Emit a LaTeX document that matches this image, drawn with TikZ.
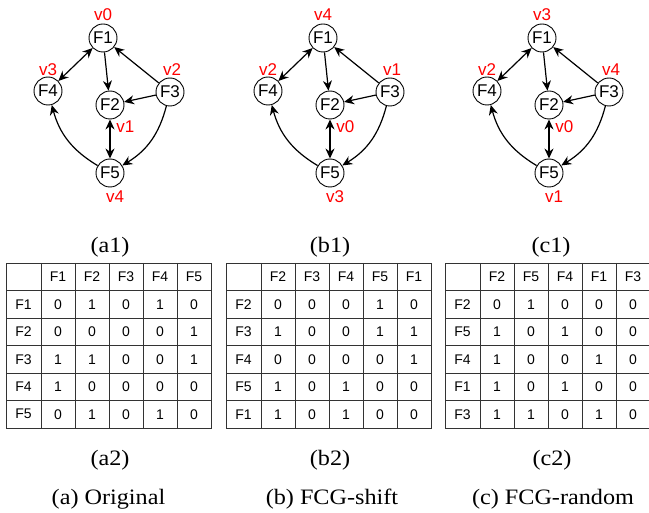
\documentclass[tikz,border=0pt]{standalone}
\usepackage{fontspec}
\setmainfont[FakeStretch=1.1]{Liberation Serif}
\setsansfont{Liberation Sans}
\usetikzlibrary{positioning,arrows.meta}

\begin{document}
\begin{tikzpicture}[x=1pt,y=-1pt]
	\tikzstyle{Fnode} = [circle, draw=black, line width=0.9pt, minimum size=28pt, inner sep=0pt, font=\sffamily\fontsize{17}{17}\selectfont]
	\tikzstyle{vlabel} = [inner sep=0pt, text=red, font=\sffamily\fontsize{17}{17}\selectfont]
	\tikzstyle{arr} = [line width=1.2pt, -{Stealth[length=10pt,width=9pt]}]
	\tikzstyle{darr} = [line width=1.2pt, {Stealth[length=10pt,width=9pt]}-{Stealth[length=10pt,width=9pt]}]
	\tikzstyle{cell} = [inner sep=0pt, font=\sffamily\fontsize{14}{14}\selectfont]
	\tikzstyle{tline} = [line width=0.8pt, black!80]
	\tikzstyle{subcap} = [anchor=base, inner sep=0pt, font=\fontsize{22}{22}\selectfont]

	\useasboundingbox (0,0) rectangle (649,513);

	% the three graphs, same edges, other labels
	\foreach \g/\dx/\la/\lb/\lc/\ld/\le in {a/0/v0/v1/v2/v3/v4, b/220/v4/v0/v1/v2/v3, c/439/v3/v0/v4/v2/v1} {
		\node (\g-F1) [Fnode] at (103+\dx,38) {F1};
		\node (\g-F4) [Fnode] at (48+\dx,91) {F4};
		\node (\g-F2) [Fnode] at (110+\dx,105) {F2};
		\node (\g-F3) [Fnode] at (170+\dx,92) {F3};
		\node (\g-F5) [Fnode] at (110+\dx,173) {F5};

		\node (\g-L1) [vlabel, above=3pt of \g-F1] {\la};
		\node (\g-L2) [vlabel, below right=5pt and -4pt of \g-F2] {\lb};
		\node (\g-L3) [vlabel, above=2pt of \g-F3, xshift=2pt] {\lc};
		\node (\g-L4) [vlabel, above=1pt of \g-F4] {\ld};
		\node (\g-L5) [vlabel, below=3pt of \g-F5, xshift=5pt] {\le};

		\draw [darr] (\g-F1) -- (\g-F4);
		\draw [arr] (\g-F1) -- (\g-F2);
		\draw [arr] (\g-F3) -- (\g-F1);
		\draw [arr] (\g-F3) -- (\g-F2);
		\draw [darr] (\g-F2) -- (\g-F5);
		\draw [arr] (\g-F3) to[bend left=22] (\g-F5);
		\draw [arr] (\g-F5) to[bend left=22] (\g-F4);
	}

	% adjacency tables
	\foreach \g/\tx/\hd/\rw in {
		a/6/{F1,F2,F3,F4,F5}/{F1/{0,1,0,1,0},F2/{0,0,0,0,1},F3/{1,1,0,0,1},F4/{1,0,0,0,0},F5/{0,1,0,1,0}},
		b/226/{F2,F3,F4,F5,F1}/{F2/{0,0,0,1,0},F3/{1,0,0,1,1},F4/{0,0,0,0,1},F5/{1,0,1,0,0},F1/{1,0,1,0,0}},
		c/445/{F2,F5,F4,F1,F3}/{F2/{0,1,0,0,0},F5/{1,0,1,0,0},F4/{1,0,0,1,0},F1/{1,0,1,0,0},F3/{1,1,0,1,0}}} {
		\draw [tline] (\tx,263) rectangle (\tx+205,428);
		\foreach \i in {1,...,5}
			\draw [tline] (\tx,263+\i*27.5) -- (\tx+205,263+\i*27.5);
		\foreach \k in {0,...,4}
			\draw [tline] (\tx+35+\k*34,263) -- (\tx+35+\k*34,428);
		\foreach \h [count=\j] in \hd
			\node (\g-h\j) [cell] at (\tx+35+\j*34-17,276.75) {\h};
		\foreach \r/\vals [count=\i] in \rw {
			\node (\g-r\i) [cell] at (\tx+17.5,276.75+\i*27.5) {\r};
			\foreach \v [count=\j] in \vals
				\node (\g-r\i c\j) [cell] at (\tx+35+\j*34-17,276.75+\i*27.5) {\v};
		}
	}

	% captions
	\node (cap-a1) [subcap] at (110,253) {(a1)};
	\node (cap-b1) [subcap] at (330,253) {(b1)};
	\node (cap-c1) [subcap] at (551,253) {(c1)};
	\node (cap-a2) [subcap] at (110,466) {(a2)};
	\node (cap-b2) [subcap] at (330,466) {(b2)};
	\node (cap-c2) [subcap] at (552,466) {(c2)};
	\node (cap-a) [subcap] at (108.5,504) {(a) Original};
	\node (cap-b) [subcap] at (332,504) {(b) FCG-shift};
	\node (cap-c) [subcap] at (553,504) {(c) FCG-random};
\end{tikzpicture}
\end{document}
